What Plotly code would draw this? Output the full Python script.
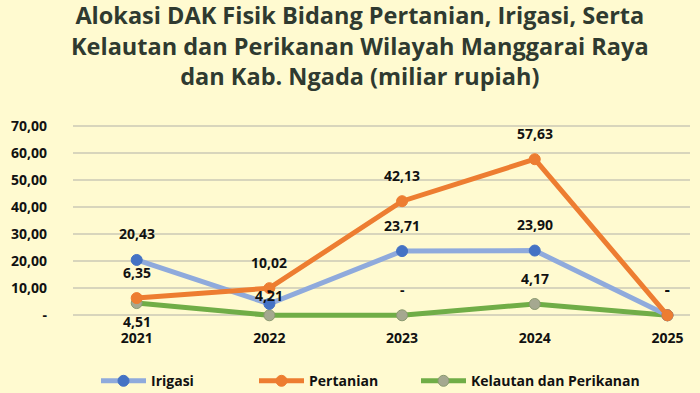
import plotly.graph_objects as go

years = [2021, 2022, 2023, 2024, 2025]
irigasi = [20.43, 4.21, 23.71, 23.90, 0]
pertanian = [6.35, 10.02, 42.13, 57.63, 0]
kelautan = [4.51, 0, 0, 4.17, 0]

irigasi_shift = [26, 8, 26, 26, 26]
pertanian_shift = [26, 26, 26, 26, 26]
kelautan_shift = [-18, 26, 26, 26, 26]

ytick_vals = [0, 10, 20, 30, 40, 50, 60, 70]
ytick_text = ["-", "10,00", "20,00", "30,00", "40,00", "50,00", "60,00", "70,00"]

title_text = ("Alokasi DAK Fisik Bidang Pertanian, Irigasi, Serta<br>"
              "Kelautan dan Perikanan Wilayah Manggarai Raya<br>"
              "dan Kab. Ngada (miliar rupiah)")

bg = "#FFFAD0"
font_family = "'Open Sans', sans-serif"

def fmt(v):
    return "-" if v == 0 else f"{v:.2f}".replace(".", ",")

fig = go.Figure()
series = [
    ("Irigasi", irigasi, "#8FAADC", "#4472C4", "#4472C4", irigasi_shift, "legend"),
    ("Pertanian", pertanian, "#ED7D31", "#ED7D31", "#ED7D31", pertanian_shift, "legend2"),
    ("Kelautan dan Perikanan", kelautan, "#70AD47", "#A5A890", "#8A9A70", kelautan_shift, "legend3"),
]
for name, vals, lc, mc, mlc, _, lg in [series[2], series[0], series[1]]:
    fig.add_trace(go.Scatter(
        x=years, y=vals, mode="lines+markers", name=name, legend=lg,
        line=dict(color=lc, width=5),
        marker=dict(size=11, color=mc, line=dict(color=mlc, width=1)),
        cliponaxis=False,
    ))

annotations = []
for name, vals, lc, mc, mlc, shifts, lg in series:
    for x, v, s in zip(years, vals, shifts):
        annotations.append(dict(
            x=x, y=v, text=fmt(v), showarrow=False, yshift=s,
            font=dict(size=14, color="#111111", family=font_family, weight="bold"),
        ))

annotations.append(dict(
    xref="paper", yref="paper", x=0.465, y=1.645, xanchor="center", yanchor="top",
    text=title_text, showarrow=False, align="center",
    font=dict(size=23.5, color="#2F3A30", family=font_family, weight="bold"),
))

def leg(xpx):
    return dict(
        orientation="h", x=xpx / 700, xanchor="left", xref="container",
        y=0.03, yanchor="middle", yref="container",
        font=dict(size=14, color="#111111", weight="bold"),
        bgcolor="rgba(0,0,0,0)", itemwidth=45,
    )

fig.update_layout(
    width=700, height=393,
    paper_bgcolor=bg, plot_bgcolor=bg,
    margin=dict(l=73, r=10, t=123, b=75),
    font=dict(family=font_family, size=14, color="#111111", weight="bold"),
    legend=leg(96), legend2=leg(254), legend3=leg(416),
    annotations=annotations,
    showlegend=True,
)
fig.update_xaxes(
    range=[2020.52, 2025.17], tickvals=years, ticktext=[str(y) for y in years],
    showgrid=False, zeroline=False, showline=False, ticks="",
    ticklabelstandoff=10, automargin=False,
    tickfont=dict(size=14, color="#111111", weight="bold"),
)
fig.update_yaxes(
    range=[-1, 71], tickvals=ytick_vals, ticktext=ytick_text,
    showgrid=True, gridcolor="#D8D5BC", gridwidth=2, zeroline=False, showline=False,
    ticks="", ticklabelstandoff=25, automargin=False,
    tickfont=dict(size=14, color="#111111", weight="bold"),
)

fig.write_html("out.html", config={"displayModeBar": False},
               post_script="document.body.style.margin='0';document.body.style.overflow='hidden';")
